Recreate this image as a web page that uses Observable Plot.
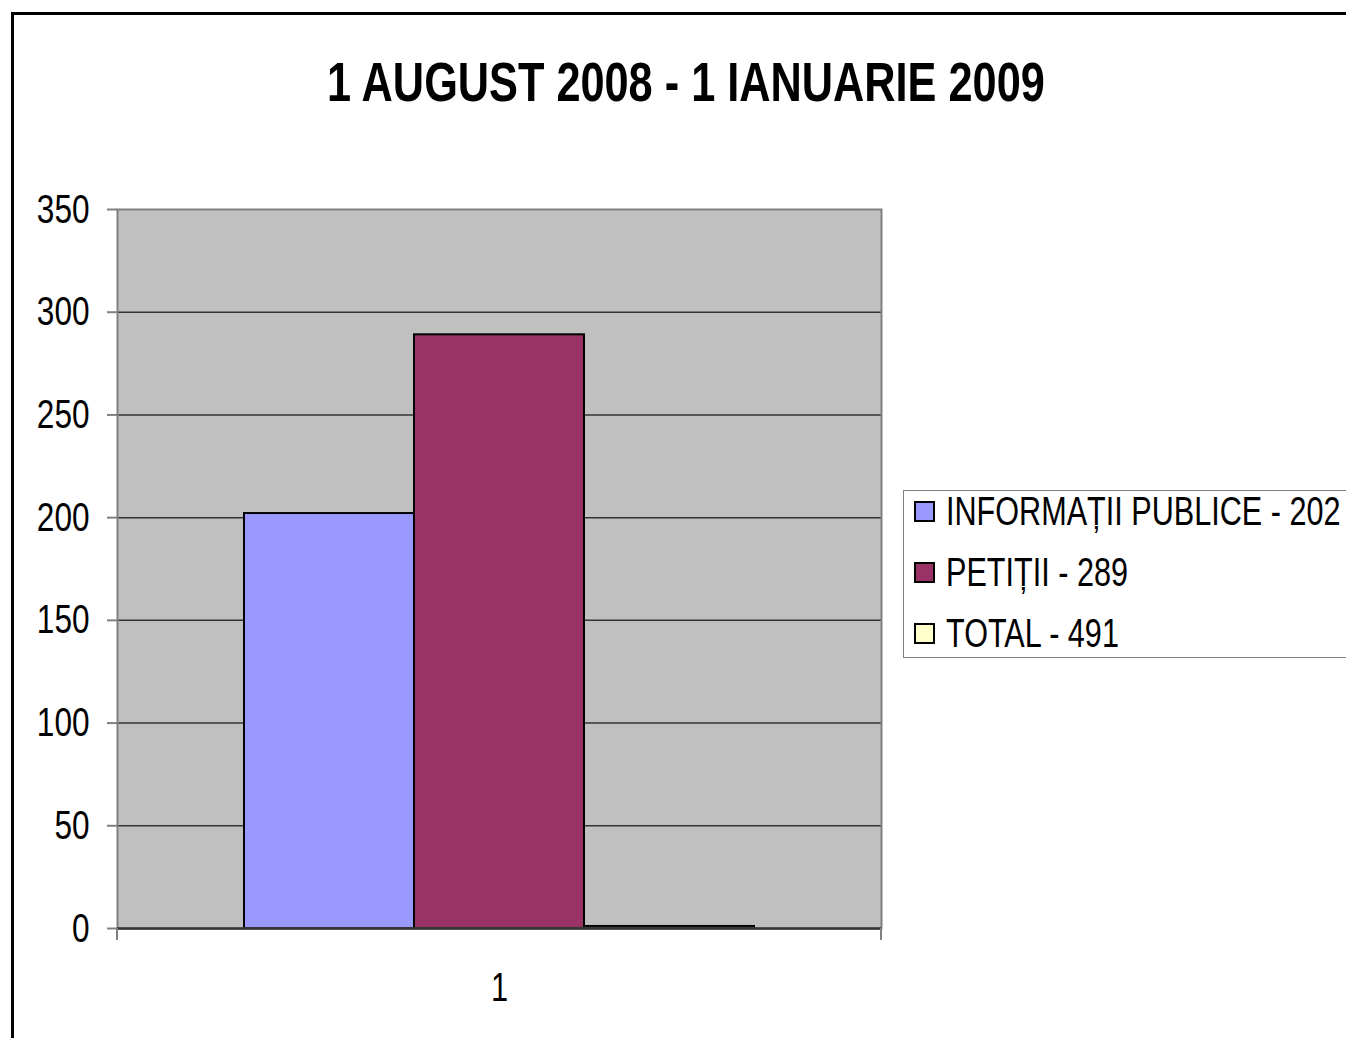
<!DOCTYPE html>
<html>
<head>
<meta charset="utf-8">
<script src="https://cdn.jsdelivr.net/npm/d3@7"></script>
<script src="https://cdn.jsdelivr.net/npm/@observablehq/plot@0.6"></script>
<style>
  html, body { margin: 0; padding: 0; background: #fff; overflow: hidden; }
  #wrap { position: relative; width: 1346px; height: 1038px; overflow: hidden;
          font-family: "Liberation Sans", Arial, sans-serif; color: #000; }
  #border { position: absolute; left: 11px; top: 12px; width: 1400px; height: 1100px;
            border-top: 3px solid #000; border-left: 3px solid #000; box-sizing: border-box; }
  #title { position: absolute; left: 0; top: 52px; width: 1372px; text-align: center;
           font-weight: bold; font-size: 55px; line-height: 60px; }
  #title span { display: inline-block; transform: scaleX(0.787); transform-origin: center; white-space: nowrap; }
  #chart { position: absolute; left: 0; top: 0; }
  #legend { position: absolute; left: 903px; top: 490px; width: 480px; height: 168px;
            border: 1px solid #808080; box-sizing: border-box; background: #fff; }
  .item { position: absolute; left: 10px; height: 40px; display: flex; align-items: center;
          font-size: 40px; white-space: nowrap; }
  .sw { width: 17px; height: 17px; border: 2px solid #000; margin-right: 11px; flex: none; }
  .item span { display: inline-block; transform: scaleX(0.765); transform-origin: left center; }
</style>
</head>
<body>
<div id="wrap">
  <div id="border"></div>
  <div id="chart"></div>
  <div id="title"><span></span></div>
  <div id="legend"></div>
</div>
<script>
const titleText = "1 AUGUST 2008 - 1 IANUARIE 2009";
const categories = ["1"];
const series = ["INFORMAȚII PUBLICE", "PETIȚII", "TOTAL"];
const values = [202, 289, 1];
const legendLabels = ["INFORMAȚII PUBLICE - 202", "PETIȚII - 289", "TOTAL - 491"];
const colors = ["#9999FF", "#993366", "#FFFFCC"];
const yTicks = [0, 50, 100, 150, 200, 250, 300, 350];

const data = series.map((s, i) => ({cat: categories[0], series: s, value: values[i]}));

document.querySelector("#title span").textContent = titleText;

const plot = Plot.plot({
  width: 1346,
  height: 1038,
  marginTop: 209,
  marginLeft: 117,
  marginRight: 465,
  marginBottom: 110,
  style: {fontFamily: "'Liberation Sans', Arial, sans-serif", background: "transparent", color: "#000"},
  fx: {domain: categories, padding: 0, label: null, axis: null},
  x: {domain: series, paddingInner: 0, paddingOuter: 0.747, axis: null},
  y: {domain: [0, 350], axis: null},
  color: {domain: series, range: colors},
  marks: [
    Plot.frame({fill: "#C0C0C0", stroke: null}),
    Plot.ruleY(yTicks.slice(1, -1), {stroke: "#333", strokeWidth: 1.5}),
    Plot.barY(data, {fx: "cat", x: "series", y: "value", fill: "series", stroke: "#000", strokeWidth: 2, inset: 0}),
    Plot.frame({stroke: "#808080", strokeWidth: 2}),
    Plot.ruleY([0], {stroke: "#333", strokeWidth: 2.5}),
    Plot.axisY({ticks: yTicks, tickSize: 10, tickPadding: 18, fontSize: 41, stroke: "#808080", strokeWidth: 2, tickFormat: d => String(d), label: null, color: "#000"}),
    Plot.axisFx({anchor: "bottom", tickSize: 0, tickPadding: 44, fontSize: 40, label: null})
  ]
});
document.getElementById("chart").appendChild(plot);

const svg = d3.select(plot);
// condense the axis labels (narrow face of the original)
svg.selectAll("g[aria-label$='tick label'] text").each(function() {
  const t = this.getAttribute("transform") || "";
  this.setAttribute("transform", t + " scale(0.77,1)");
});

// boundary tick marks of the category axis, from the scales
const fxs = plot.scale("fx");
const y0 = plot.scale("y").apply(0);
const left = fxs.apply(categories[0]);
const right = left + fxs.bandwidth;
svg.append("g").selectAll("line").data([left, right]).join("line")
  .attr("x1", d => d).attr("x2", d => d)
  .attr("y1", y0).attr("y2", y0 + 12)
  .attr("stroke", "#808080").attr("stroke-width", 2);

const leg = document.getElementById("legend");
legendLabels.forEach((lab, i) => {
  const it = document.createElement("div");
  it.className = "item";
  it.style.top = (0 + i * 61) + "px";
  const sw = document.createElement("div");
  sw.className = "sw";
  sw.style.background = colors[i];
  const tx = document.createElement("span");
  tx.textContent = lab;
  it.appendChild(sw); it.appendChild(tx);
  leg.appendChild(it);
});
</script>
</body>
</html>
